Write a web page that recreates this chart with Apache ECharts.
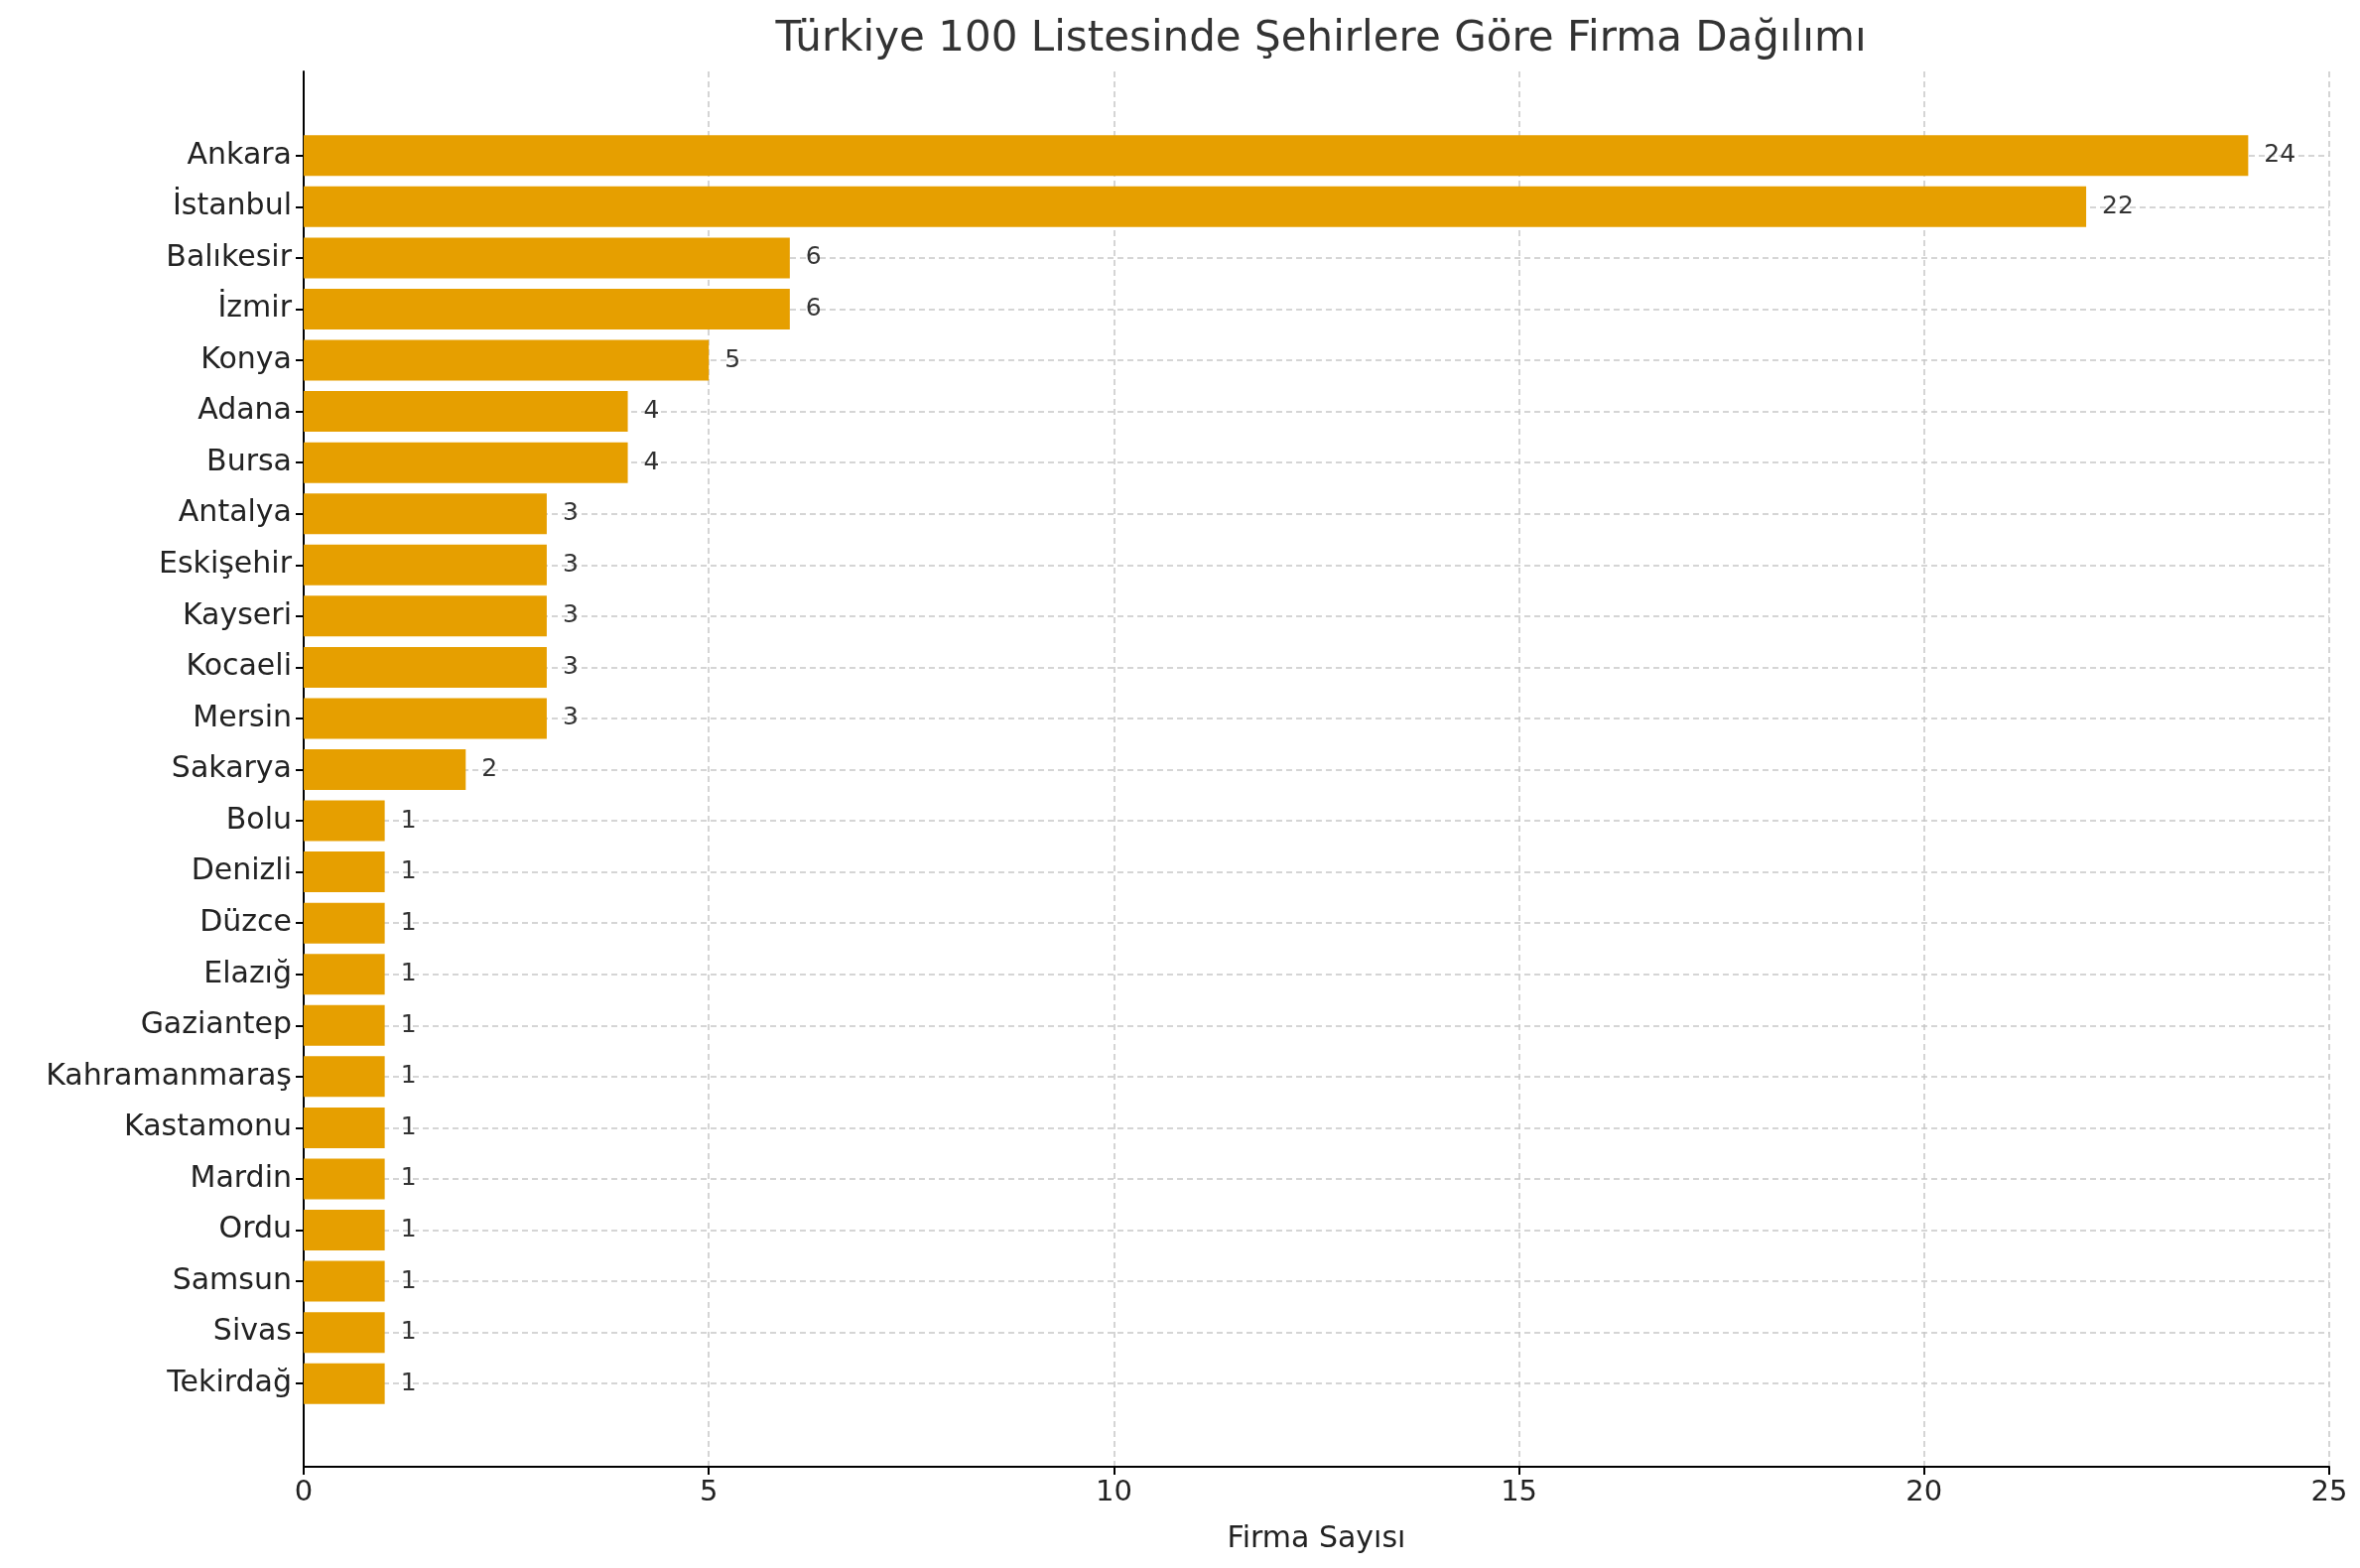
<!DOCTYPE html>
<html><head><meta charset="utf-8">
<script src="https://cdn.jsdelivr.net/npm/echarts@6/dist/echarts.min.js"></script>
<style>html,body{margin:0;background:#fff}#c{width:2378px;height:1580px}</style>
</head><body><div id="c"></div>
<script>
const cities = ['Ankara','İstanbul','Balıkesir','İzmir','Konya','Adana','Bursa','Antalya','Eskişehir','Kayseri','Kocaeli','Mersin','Sakarya','Bolu','Denizli','Düzce','Elazığ','Gaziantep','Kahramanmaraş','Kastamonu','Mardin','Ordu','Samsun','Sivas','Tekirdağ'];
const counts = [24,22,6,6,5,4,4,3,3,3,3,3,2,1,1,1,1,1,1,1,1,1,1,1,1];
const xTicks = {min: 0, max: 25, interval: 5};

const chart = echarts.init(document.getElementById('c'));
const font = 'DejaVu Sans';
const dash = {show: true, lineStyle: {color: '#c8c8c8', type: [6, 4], width: 1.5}};
chart.setOption({
  textStyle: {fontFamily: font},
  title: {text: 'Türkiye 100 Listesinde Şehirlere Göre Firma Dağılımı', left: 1326, top: 14, textAlign: 'center',
    textStyle: {fontSize: 42, fontWeight: 'normal', color: '#333', fontFamily: font}},
  grid: [
    {left: 306, right: 31, top: 131, bottom: 160},
    {left: 306, right: 31, top: 72, bottom: 102}
  ],
  xAxis: [
    {gridIndex: 0, type: 'value', ...xTicks, show: false, splitLine: {show: false}},
    {gridIndex: 1, type: 'value', ...xTicks, position: 'bottom',
      axisLine: {show: true, lineStyle: {color: '#000', width: 2}},
      axisTick: {show: true, length: 8, lineStyle: {color: '#000', width: 2}},
      axisLabel: {fontSize: 29, color: '#222', margin: 12},
      splitLine: dash,
      name: 'Firma Sayısı', nameLocation: 'middle', nameGap: 58,
      nameTextStyle: {fontSize: 30, color: '#222'}}
  ],
  yAxis: [
    {gridIndex: 0, type: 'category', data: cities, inverse: true,
      axisLine: {show: false},
      axisTick: {show: true, alignWithLabel: true, length: 8, lineStyle: {color: '#000', width: 2}},
      axisLabel: {fontSize: 30, color: '#222', margin: 12},
      splitLine: {...dash, alignWithLabel: true}},
    {gridIndex: 1, type: 'value', min: 0, max: 1,
      axisLine: {show: true, onZero: false, lineStyle: {color: '#000', width: 2}},
      axisTick: {show: false}, axisLabel: {show: false}, splitLine: {show: false}}
  ],
  series: [{
    type: 'bar', xAxisIndex: 0, yAxisIndex: 0, data: counts, barWidth: 41,
    itemStyle: {color: '#E69F00'},
    label: {show: true, position: 'right', distance: 16, fontSize: 25, color: '#333'}
  }]
});
</script></body></html>
